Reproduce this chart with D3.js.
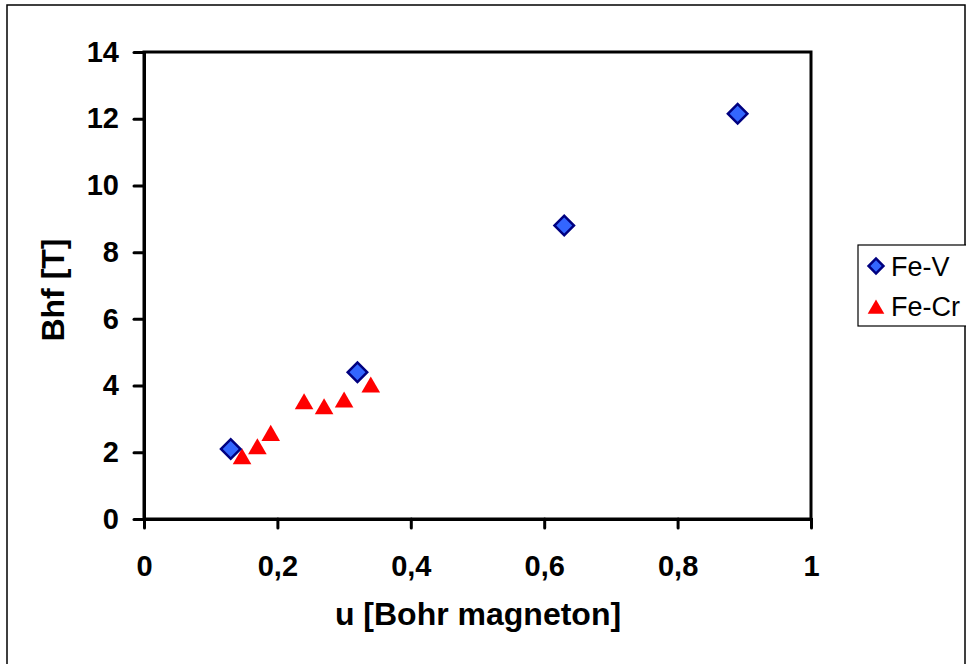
<!DOCTYPE html>
<html>
<head>
<meta charset="utf-8">
<script src="https://cdn.jsdelivr.net/npm/d3@7"></script>
<style>
  body { margin: 0; background: #fff; }
  svg { display: block; font-family: "Liberation Sans", Arial, sans-serif; }
</style>
</head>
<body>
<div id="chart"></div>
<script>
// Fe-V series (diamonds)
const feVx = [0.13, 0.32, 0.63, 0.89];
const feVy = [2.1, 4.4, 8.8, 12.15];
// Fe-Cr series (triangles)
const feCrx = [0.147, 0.17, 0.19, 0.24, 0.27, 0.30, 0.34];
const feCry = [1.8, 2.1, 2.5, 3.45, 3.3, 3.5, 3.95];

const xTicks = [0, 0.2, 0.4, 0.6, 0.8, 1];
const yTicks = [0, 2, 4, 6, 8, 10, 12, 14];
const seriesNames = ["Fe-V", "Fe-Cr"];

const width = 966, height = 664;
const plot = { left: 144, top: 52, right: 811, bottom: 519 };

const svg = d3.select('#chart')
  .append('svg')
  .attr('width', width)
  .attr('height', height);

// outer chart border
svg.append('rect')
  .attr('x', 7).attr('y', 5)
  .attr('width', 958).attr('height', 670)
  .attr('fill', 'none')
  .attr('stroke', '#000')
  .attr('stroke-width', 1.5);

const x = d3.scaleLinear().domain([0, 1]).range([plot.left, plot.right]);
const y = d3.scaleLinear().domain([0, 14]).range([plot.bottom, plot.top]);

// plot frame
svg.append('rect')
  .attr('x', plot.left).attr('y', plot.top)
  .attr('width', plot.right - plot.left)
  .attr('height', plot.bottom - plot.top)
  .attr('fill', 'none')
  .attr('stroke', '#000')
  .attr('stroke-width', 3);

const fmt = d => String(d).replace('.', ',');

const xAxis = svg.append('g')
  .attr('transform', `translate(0,${plot.bottom})`)
  .call(d3.axisBottom(x).tickValues(xTicks).tickFormat(fmt).tickSize(9).tickPadding(27));

const yAxis = svg.append('g')
  .attr('transform', `translate(${plot.left},0)`)
  .call(d3.axisLeft(y).tickValues(yTicks).tickFormat(fmt).tickSize(10).tickPadding(15));

[xAxis, yAxis].forEach(a => {
  a.select('.domain').attr('stroke', '#000').attr('stroke-width', 3);
  a.selectAll('.tick line').attr('stroke', '#000').attr('stroke-width', 3).attr('stroke-linecap', 'round');
  a.selectAll('.tick text')
    .attr('fill', '#000')
    .style('font-size', '29px')
    .style('font-weight', 'bold')
    .style('font-family', '"Liberation Sans", Arial, sans-serif');
});

// axis titles
svg.append('text')
  .attr('x', 478).attr('y', 625)
  .attr('text-anchor', 'middle')
  .style('font-size', '32px').style('font-weight', 'bold')
  .text('u [Bohr magneton]');

svg.append('text')
  .attr('transform', 'translate(64,290) rotate(-90)')
  .attr('text-anchor', 'middle')
  .style('font-size', '32px').style('font-weight', 'bold')
  .text('Bhf [T]');

const diamond = d3.symbol().type(d3.symbolSquare).size(190);
const triangle = d3.symbol().type(d3.symbolTriangle).size(150);

// Fe-Cr triangles
svg.append('g')
  .selectAll('path')
  .data(feCrx.map((v, i) => [v, feCry[i]]))
  .enter()
  .append('path')
  .attr('d', triangle)
  .attr('transform', d => `translate(${x(d[0])},${y(d[1])})`)
  .attr('fill', '#ff0000');

// Fe-V diamonds
svg.append('g')
  .selectAll('path')
  .data(feVx.map((v, i) => [v, feVy[i]]))
  .enter()
  .append('path')
  .attr('d', diamond)
  .attr('transform', d => `translate(${x(d[0])},${y(d[1])}) rotate(45)`)
  .attr('fill', '#3366ff')
  .attr('stroke', '#000080')
  .attr('stroke-width', 2.5);

// legend
const legend = svg.append('g');
legend.append('rect')
  .attr('x', 858).attr('y', 245)
  .attr('width', 120).attr('height', 81)
  .attr('fill', '#fff')
  .attr('stroke', '#000')
  .attr('stroke-width', 1.2);

legend.append('path')
  .attr('d', d3.symbol().type(d3.symbolSquare).size(110))
  .attr('transform', 'translate(876,266) rotate(45)')
  .attr('fill', '#3366ff')
  .attr('stroke', '#000080')
  .attr('stroke-width', 2.5);

legend.append('path')
  .attr('d', d3.symbol().type(d3.symbolTriangle).size(120))
  .attr('transform', 'translate(876,309)')
  .attr('fill', '#ff0000');

legend.selectAll('text.lbl')
  .data(seriesNames)
  .enter()
  .append('text')
  .attr('class', 'lbl')
  .attr('x', 891)
  .attr('y', (d, i) => 276 + i * 40)
  .style('font-size', '27px')
  .text(d => d);
</script>
</body>
</html>
